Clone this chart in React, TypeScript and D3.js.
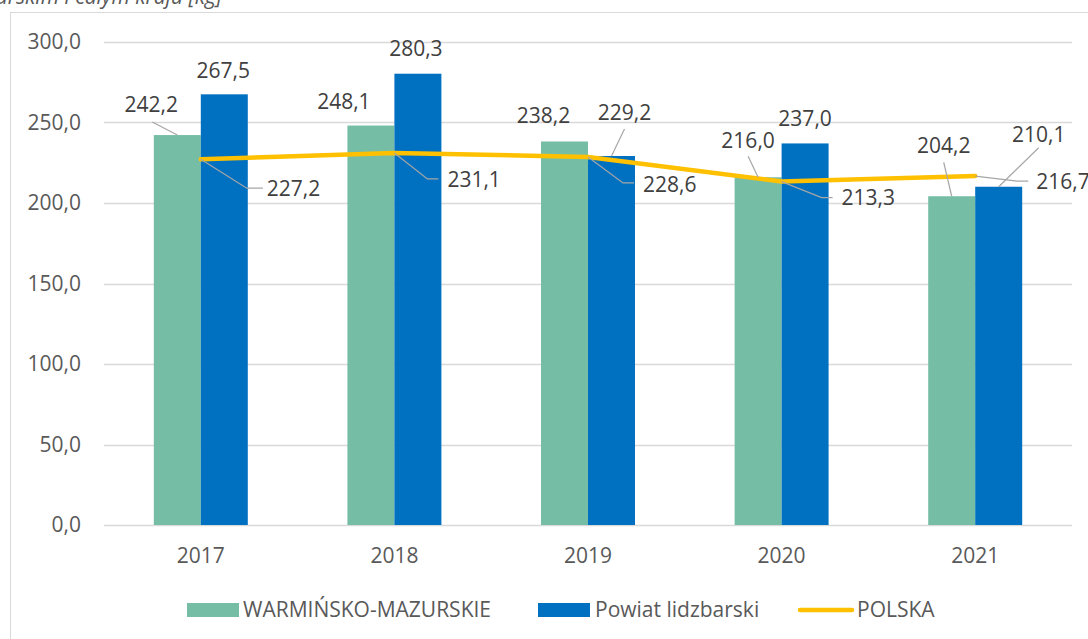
import { useMemo } from "react";
import * as d3 from "d3";

const years = ["2017", "2018", "2019", "2020", "2021"];
const warminskoMazurskie = [242.2, 248.1, 238.2, 216.0, 204.2];
const powiatLidzbarski = [267.5, 280.3, 229.2, 237.0, 210.1];
const polska = [227.2, 231.1, 228.6, 213.3, 216.7];
const yTicks = [0, 50, 100, 150, 200, 250, 300];

// label placement (px, relative to the mark anchor) – label centre and optional leader start
const greenLabelPos = [
  { dx: -26, dy: -30, lead: [-25, -13] },
  { dx: -27, dy: -24, lead: null },
  { dx: -21, dy: -26, lead: null },
  { dx: -10, dy: -37, lead: [-10, -21] },
  { dx: -8, dy: -51, lead: [-8, -34] },
];
const blueLabelPos = [
  { dx: -1, dy: -24, lead: null },
  { dx: -2, dy: -25, lead: null },
  { dx: 13, dy: -43, lead: [13, -27] },
  { dx: 0, dy: -25, lead: null },
  { dx: 40, dy: -52, lead: [40, -39] },
];
// line labels: text start, leader elbow and leader end
const lineLabelPos = [
  { tx: 66, ty: 29, ex: 46, ey: 29, hx: 62 },
  { tx: 53, ty: 27, ex: 33, ey: 26, hx: 44 },
  { tx: 55, ty: 28, ex: 35, ey: 26, hx: 46 },
  { tx: 60, ty: 16, ex: 40, ey: 16, hx: 51 },
  { tx: 61, ty: 6, ex: 42, ey: 5, hx: 53 },
];

const W = 1088;
const H = 639;
const FONT = "'Open Sans', 'Noto Sans', sans-serif";
const GREEN = "#76BDA6";
const BLUE = "#0070C0";
const YELLOW = "#FFC000";
const GRID = "#D9D9D9";
const LEADER = "#A6A6A6";
const FS = 21;

const pl = d3.formatLocale({ decimal: ",", thousands: " ", grouping: [3], currency: ["", " zł"] });
const fmt = pl.format(".1f");

export default function App() {
  const x = useMemo(() => d3.scaleBand<string>().domain(years).range([104, 1072]), []);
  const y = useMemo(() => d3.scaleLinear().domain([0, 300]).range([525, 42]), []);
  const bw = x.bandwidth();
  const inner = d3.scaleBand<string>().domain(["w", "p"]).range([0, bw]).paddingInner(0).paddingOuter(1.06);
  const barW = inner.bandwidth();
  const cx = (i: number) => (x(years[i]) as number) + bw / 2;

  const line = d3
    .line<number>()
    .x((_, i) => cx(i))
    .y((d) => y(d));

  const labelStyle = { fontFamily: FONT, fontSize: FS, fill: "#404040" };

  return (
    <svg
      width={W}
      height={H}
      style={{ position: "absolute", left: 0, top: 0, background: "#fff" }}
      fontFamily={FONT}
    >
      <text x={222} y={4} textAnchor="end" fontStyle="italic" fontSize={FS} fill="#595959">
        Ilość odpadów komunalnych na 1 mieszkańca w powiecie lidzbarskim, województwie warmińsko-mazurskim i całym kraju [kg]
      </text>
      <rect x={10.5} y={12.5} width={1100} height={700} fill="none" stroke={GRID} />

      {/* gridlines + y ticks */}
      {yTicks.map((t) => (
        <g key={t}>
          <line x1={104} x2={1072} y1={Math.round(y(t)) + 0.5} y2={Math.round(y(t)) + 0.5} stroke={GRID} strokeWidth={1.3} />
          <text x={81} y={y(t)} dy="0.35em" textAnchor="end" fontSize={FS} fill="#595959">
            {fmt(t)}
          </text>
        </g>
      ))}

      {/* x labels */}
      {years.map((yr, i) => (
        <text key={yr} x={cx(i)} y={556} dy="0.35em" textAnchor="middle" fontSize={FS} fill="#595959">
          {yr}
        </text>
      ))}

      {/* bars */}
      {years.map((yr, i) => (
        <g key={"b" + yr}>
          <rect
            x={(x(yr) as number) + (inner("w") as number)}
            y={y(warminskoMazurskie[i])}
            width={barW}
            height={y(0) - y(warminskoMazurskie[i])}
            fill={GREEN}
          />
          <rect
            x={(x(yr) as number) + (inner("p") as number)}
            y={y(powiatLidzbarski[i])}
            width={barW}
            height={y(0) - y(powiatLidzbarski[i])}
            fill={BLUE}
          />
        </g>
      ))}

      {/* POLSKA line */}
      <path d={line(polska) || ""} fill="none" stroke={YELLOW} strokeWidth={4.5} strokeLinecap="round" strokeLinejoin="round" />

      {/* bar labels */}
      {years.map((yr, i) => {
        const gx = (x(yr) as number) + (inner("w") as number) + barW / 2;
        const gy = y(warminskoMazurskie[i]);
        const bx = (x(yr) as number) + (inner("p") as number) + barW / 2;
        const by = y(powiatLidzbarski[i]);
        const gp = greenLabelPos[i];
        const bp = blueLabelPos[i];
        return (
          <g key={"l" + yr}>
            {gp.lead && (
              <line x1={gx + gp.lead[0]} y1={gy + gp.lead[1]} x2={gx} y2={gy} stroke={LEADER} strokeWidth={1.2} />
            )}
            <text x={gx + gp.dx} y={gy + gp.dy} dy="0.35em" textAnchor="middle" style={labelStyle}>
              {fmt(warminskoMazurskie[i])}
            </text>
            {bp.lead && (
              <line x1={bx + bp.lead[0]} y1={by + bp.lead[1]} x2={bx} y2={by} stroke={LEADER} strokeWidth={1.2} />
            )}
            <text x={bx + bp.dx} y={by + bp.dy} dy="0.35em" textAnchor="middle" style={labelStyle}>
              {fmt(powiatLidzbarski[i])}
            </text>
          </g>
        );
      })}

      {/* line labels */}
      {years.map((yr, i) => {
        const px = cx(i);
        const py = y(polska[i]);
        const p = lineLabelPos[i];
        return (
          <g key={"pl" + yr}>
            <polyline
              points={`${px},${py} ${px + p.ex},${py + p.ey} ${px + p.hx},${py + p.ey}`}
              fill="none"
              stroke={LEADER}
              strokeWidth={1.2}
            />
            <text x={px + p.tx} y={py + p.ty} dy="0.35em" style={labelStyle}>
              {fmt(polska[i])}
            </text>
          </g>
        );
      })}

      {/* legend */}
      <g fontSize={FS} fill="#595959">
        <rect x={187} y={603} width={52} height={14} fill={GREEN} />
        <text x={243} y={610} dy="0.35em">WARMIŃSKO-MAZURSKIE</text>
        <rect x={538} y={603} width={52} height={14} fill={BLUE} />
        <text x={595} y={610} dy="0.35em">Powiat lidzbarski</text>
        <line x1={800} x2={852} y1={610} y2={610} stroke={YELLOW} strokeWidth={4.5} strokeLinecap="round" />
        <text x={857} y={610} dy="0.35em">POLSKA</text>
      </g>
    </svg>
  );
}
